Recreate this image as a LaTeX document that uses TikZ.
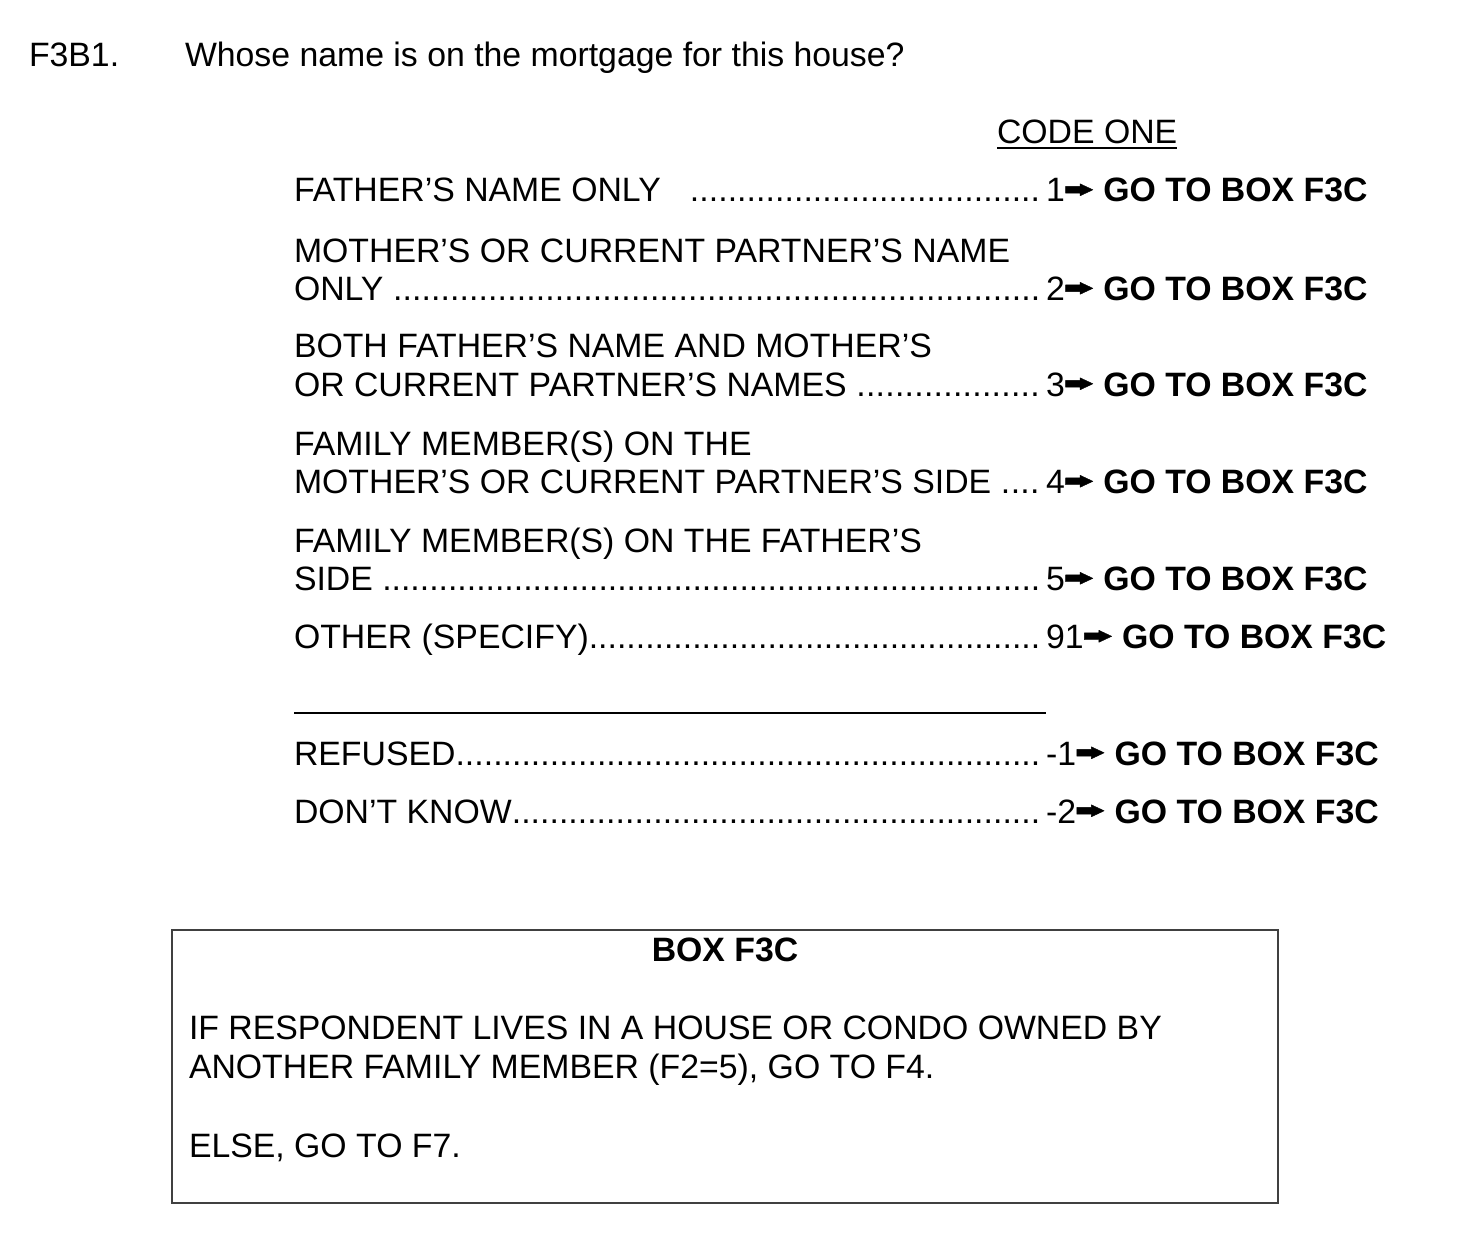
\documentclass[tikz,border=0pt]{standalone}
\usepackage{fontspec}
\setmainfont{Liberation Sans}
\newcommand{\dotlead}{\xleaders\hbox{.}\hfill}
\begin{document}
\begin{tikzpicture}[x=1pt,y=-1pt,
  txt/.style={anchor=base west,inner sep=0pt,outer sep=0pt,font=\fontsize{33.8pt}{38.5pt}\selectfont},
  gotext/.style={txt,font=\fontsize{33.8pt}{38.5pt}\selectfont\bfseries},
  arrowshape/.style={fill=black,draw=black,line width=0.4pt,line join=round},
  rulestyle/.style={line width=2pt,black},
  boxframe/.style={line width=1.6pt,black!75}]
\useasboundingbox (0,0) rectangle (1468,1252);
% question
\node[txt] (qnum) at (29,67) {F3B1.};
\node[txt] (qtext) at (185,67) {Whose name is on the mortgage for this house?};
% code one header
\node[txt] (codeone) at (997,143.5) {CODE ONE};
\draw[rulestyle] (codeone.base west) ++(0,5) coordinate (ul1) -- ++(179.5,0) coordinate (ul2);
% answer rows
\node[txt] (r1) at (294,202) {\hbox to 746pt{FATHER’S NAME ONLY\hspace{29pt}\dotlead}};
\node[txt] (r2a) at (294,262) {MOTHER’S OR CURRENT PARTNER’S NAME};
\node[txt] (r2) at (294,300.5) {\hbox to 746pt{ONLY \dotlead}};
\node[txt] (r3a) at (294,357.5) {BOTH FATHER’S NAME AND MOTHER’S};
\node[txt] (r3) at (294,396) {\hbox to 746pt{OR CURRENT PARTNER’S NAMES \dotlead}};
\node[txt] (r4a) at (294,455) {FAMILY MEMBER(S) ON THE};
\node[txt] (r4) at (294,493.5) {\hbox to 746pt{MOTHER’S OR CURRENT PARTNER’S SIDE \dotlead}};
\node[txt] (r5a) at (294,552) {FAMILY MEMBER(S) ON THE FATHER’S};
\node[txt] (r5) at (294,590.5) {\hbox to 746pt{SIDE \dotlead}};
\node[txt] (r6) at (294,648.5) {\hbox to 746pt{OTHER (SPECIFY)\dotlead}};
\node[txt] (r7) at (294,765) {\hbox to 746pt{REFUSED\dotlead}};
\node[txt] (r8) at (294,823) {\hbox to 746pt{DON’T KNOW\dotlead}};
% codes, arrows, skip instructions
\foreach \nm/\yy/\code in {1/202/1, 2/300.5/2, 3/396/3, 4/493.5/4, 5/590.5/5, 6/648.5/91, 7/765/-1, 8/823/-2}{
  \node[txt] (n\nm) at (1046,\yy) {\code};
  \fill[arrowshape] ([xshift=0.8pt]n\nm.base east) ++(0,-8.8) -- ++(14.5,0) -- ++(0,2.6)
     -- ++(12.8,-6) -- ++(-12.8,-6) -- ++(0,2.6) -- ++(-14.5,0) -- cycle;
  \node[gotext] (g\nm) at ([xshift=38.5pt]n\nm.base east) {GO TO BOX F3C};
}
% specify line
\coordinate (sl) at (294,713);
\coordinate (sr) at (1046,713);
\draw[rulestyle] (sl) -- (sr);
% box
\coordinate (bxa) at (172,930);
\coordinate (bxb) at (1278,1203);
\draw[boxframe] (bxa) rectangle (bxb);
\node[gotext,anchor=base] (bxtitle) at (725,961) {BOX F3C};
\node[txt] (bx1) at (189,1039) {IF RESPONDENT LIVES IN A HOUSE OR CONDO OWNED BY};
\node[txt] (bx2) at (189,1078) {ANOTHER FAMILY MEMBER (F2=5), GO TO F4.};
\node[txt] (bx3) at (189,1157) {ELSE, GO TO F7.};
\end{tikzpicture}
\end{document}
